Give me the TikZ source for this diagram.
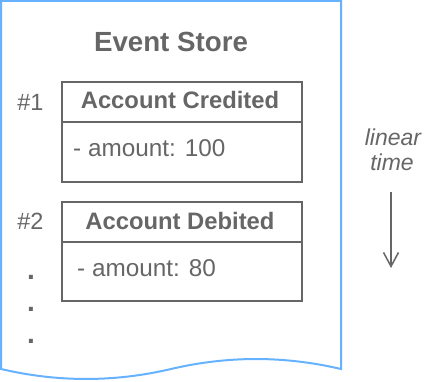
\documentclass[tikz,border=0pt]{standalone}
\usepackage{fontspec}
\setmainfont{Liberation Sans}
\usetikzlibrary{arrows.meta}
\definecolor{txtgray}{HTML}{666666}
\definecolor{docblue}{HTML}{66B2FF}
\tikzset{
  boxpart/.style={draw=txtgray, line width=2pt, minimum width=240pt, inner sep=0pt, anchor=north west},
  lbl/.style={text=txtgray, inner sep=0pt, anchor=base},
  lblw/.style={text=txtgray, inner sep=0pt, anchor=base west},
}
\begin{document}
\begin{tikzpicture}[x=1pt,y=-1pt]
\useasboundingbox (0,0) rectangle (432,382);
% document shape
\draw[docblue, line width=2pt, line join=miter]
  (1,1) -- (341,1) -- (341,369)
  .. controls (284.3,355.7) and (227.7,355.7) .. (171,369)
  .. controls (114.3,382.3) and (57.7,382.3) .. (1,369) -- cycle;
\node[lbl, font=\bfseries\fontsize{27.7}{30}\selectfont] (title) at (171,52) {Event Store};
% event 1
\node[boxpart, minimum height=40pt] (h1) at (61,81) {};
\node[boxpart, minimum height=60pt] (b1) at (61,121) {};
\node[lbl, font=\bfseries\fontsize{23.8}{26}\selectfont] (h1t) at (180,109) {Account Credited};
\node[lblw, font=\fontsize{24.3}{26}\selectfont] (b1t) at (73,157) {- amount: 100};
\node[lbl, font=\fontsize{23.5}{26}\selectfont] (n1) at (30.5,111) {\#1};
% event 2
\node[boxpart, minimum height=40pt] (h2) at (61,201) {};
\node[boxpart, minimum height=59pt] (b2) at (61,241) {};
\node[lbl, font=\bfseries\fontsize{23.8}{26}\selectfont] (h2t) at (180,230) {Account Debited};
\node[lblw, font=\fontsize{24.3}{26}\selectfont] (b2t) at (77,277) {- amount: 80};
\node[lbl, font=\fontsize{23.5}{26}\selectfont] (n2) at (30.5,230) {\#2};
% dots
\node[lbl, font=\bfseries\fontsize{28}{28}\selectfont] (d1) at (31,280) {.};
\node[lbl, font=\bfseries\fontsize{28}{28}\selectfont] (d2) at (31,312) {.};
\node[lbl, font=\bfseries\fontsize{28}{28}\selectfont] (d3) at (31,344) {.};
% linear time
\node[lbl, font=\itshape\fontsize{23}{24}\selectfont] (lin) at (393,146) {linear};
\node[lbl, font=\itshape\fontsize{23}{24}\selectfont] (tim) at (392,171) {time};
\coordinate (a1) at (391,192);
\coordinate (a2) at (391,268);
\draw[txtgray, line width=1.5pt, -{Straight Barb[length=14pt,width=15pt,line width=1.5pt]}] (a1) -- (a2);
\end{tikzpicture}
\end{document}
